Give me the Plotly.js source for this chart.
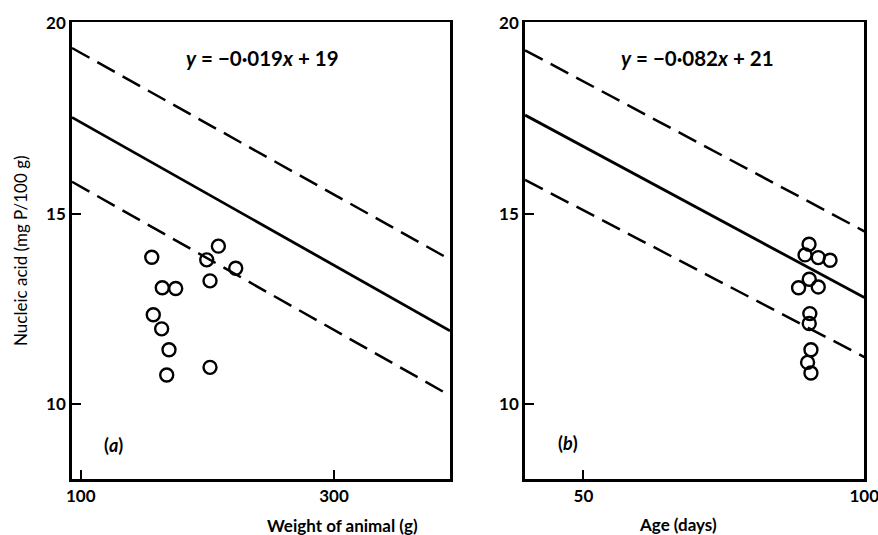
<!DOCTYPE html>
<html><head><meta charset="utf-8">
<script src="https://cdn.plot.ly/plotly-3.0.1.min.js"></script>
<style>html,body{margin:0;padding:0;background:#fff}</style>
</head><body><div id="chart" style="width:878px;height:535px"></div>
<script>
// Panel (a): weight of animal (g)
const weightA = [156.1, 164.4, 175.0, 157.3, 163.9, 169.7, 167.9, 199.5, 208.7, 202.1, 222.4, 202.1];
const acidA   = [13.86, 13.06, 13.04, 12.35, 11.98, 11.43, 10.77, 13.79, 14.15, 13.24, 13.57, 10.97];
const fitA_x   = [93.1, 391.6];
const fitA_y   = [17.53, 11.93];
const upperA_y = [19.35, 13.80];
const lowerA_y = [15.84, 10.23];
// Panel (b): age (days)
const ageB  = [90.16, 89.45, 91.8, 93.9, 90.2, 88.3, 91.8, 90.3, 90.2, 90.5, 89.9, 90.5];
const acidB = [14.20, 13.92, 13.85, 13.78, 13.28, 13.06, 13.08, 12.38, 12.12, 11.43, 11.10, 10.82];
const fitB_x   = [39.6, 100];
const fitB_y   = [17.59, 12.80];
const upperB_y = [19.29, 14.54];
const lowerB_y = [15.89, 11.24];
const yTicks = [10, 15, 20];
const xTicksA = [100, 300];
const xTicksB = [50, 100];
const eqA = '<i>y</i> = −0·019<i>x</i> + 19';
const eqB = '<i>y</i> = −0·082<i>x</i> + 21';

const FONT = 'Lato, Open Sans, sans-serif';
const solid = {color: '#000', width: 2.8};
const dashed = {color: '#000', width: 2.5, dash: '20px,9px'};
const marker = {symbol: 'circle-open', size: 13, color: '#000', line: {width: 2.4, color: '#000'}};

const traces = [
  {x: fitA_x, y: fitA_y, mode: 'lines', line: solid, xaxis: 'x', yaxis: 'y'},
  {x: fitA_x, y: upperA_y, mode: 'lines', line: dashed, xaxis: 'x', yaxis: 'y'},
  {x: fitA_x, y: lowerA_y, mode: 'lines', line: dashed, xaxis: 'x', yaxis: 'y'},
  {x: weightA, y: acidA, mode: 'markers', marker: marker, xaxis: 'x', yaxis: 'y'},
  {x: fitB_x, y: fitB_y, mode: 'lines', line: solid, xaxis: 'x2', yaxis: 'y2'},
  {x: fitB_x, y: upperB_y, mode: 'lines', line: dashed, xaxis: 'x2', yaxis: 'y2'},
  {x: fitB_x, y: lowerB_y, mode: 'lines', line: dashed, xaxis: 'x2', yaxis: 'y2'},
  {x: ageB, y: acidB, mode: 'markers', marker: marker, xaxis: 'x2', yaxis: 'y2'}
];

const axCommon = {
  showgrid: false, zeroline: false, showline: true, mirror: true,
  linecolor: '#000', linewidth: 2.8, ticks: 'inside', ticklen: 9, tickwidth: 2,
  tickcolor: '#000', ticklabeloverflow: 'allow',
  tickfont: {family: FONT, size: 17, color: '#000', weight: 'bold'}
};
const xTitleFont = {family: FONT, size: 17, color: '#000', weight: 'bold'};
const Y_DOMAIN = [0.1047, 0.958];
const Y_RANGE = [8.04, 20.02];

const layout = {
  width: 878, height: 535, showlegend: false,
  paper_bgcolor: '#fff', plot_bgcolor: '#fff',
  margin: {l: 0, r: 0, t: 0, b: 0},
  xaxis: Object.assign({}, axCommon, {
    domain: [0.082, 0.5125], range: [fitA_x[0], fitA_x[1]], tickvals: xTicksA, anchor: 'y'
  }),
  yaxis: Object.assign({}, axCommon, {
    domain: Y_DOMAIN, range: Y_RANGE, tickvals: yTicks, anchor: 'x',
    title: {text: 'Nucleic acid (mg P/100 g)', standoff: 15, font: {family: FONT, size: 17, color: '#000'}}
  }),
  xaxis2: Object.assign({}, axCommon, {
    domain: [0.598, 0.9844], range: [fitB_x[0], fitB_x[1]], tickvals: xTicksB, anchor: 'y2'
  }),
  yaxis2: Object.assign({}, axCommon, {
    domain: Y_DOMAIN, range: Y_RANGE, tickvals: yTicks, anchor: 'x2'
  }),
  annotations: [
    {xref: 'paper', yref: 'paper', x: 265/878, y: 1 - 525/535, yanchor: 'middle', text: 'Weight of animal (g)', showarrow: false, font: xTitleFont},
    {xref: 'paper', yref: 'paper', x: 719/878, y: 1 - 524/535, yanchor: 'middle', text: 'Age (days)', showarrow: false, font: xTitleFont},
    {xref: 'x', yref: 'y', x: 243.2, y: 19.09, text: eqA, showarrow: false, font: {family: FONT, size: 20.5, color: '#000', weight: 'bold'}},
    {xref: 'x2', yref: 'y2', x: 70.3, y: 19.09, text: eqB, showarrow: false, font: {family: FONT, size: 20.5, color: '#000', weight: 'bold'}},
    {xref: 'x', yref: 'y', x: 125.5, y: 8.93, text: '(<i>a</i>)', showarrow: false, font: {family: FONT, size: 18, color: '#000', weight: 'bold'}},
    {xref: 'x2', yref: 'y2', x: 47.3, y: 8.99, text: '(<i>b</i>)', showarrow: false, font: {family: FONT, size: 18, color: '#000', weight: 'bold'}}
  ]
};

Plotly.newPlot('chart', traces, layout, {displayModeBar: false, staticPlot: true});
</script></body></html>
